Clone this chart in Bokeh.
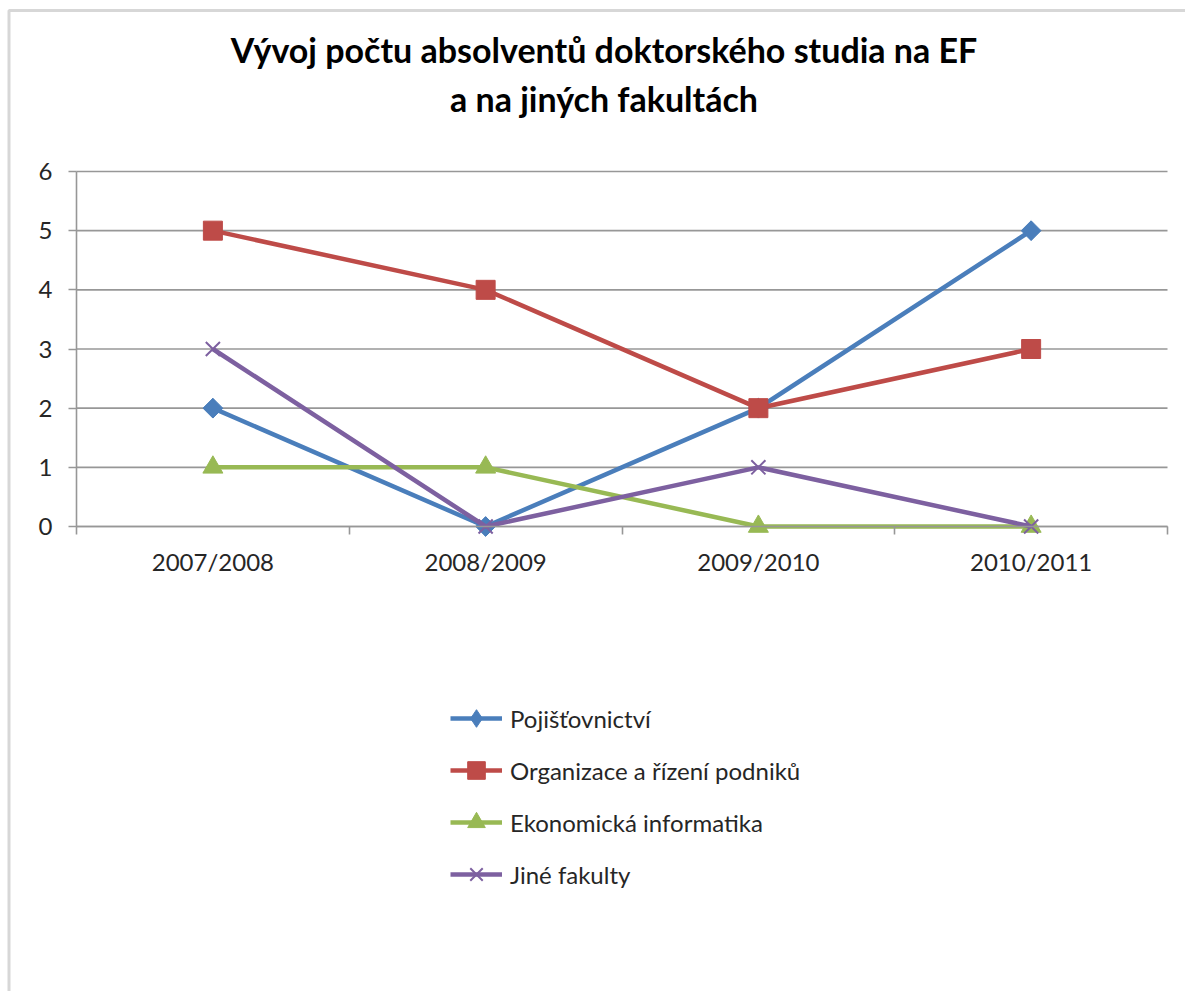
import numpy as np
from bokeh.plotting import figure
from bokeh.models import (Range1d, FixedTicker, Legend, LegendItem, Label, BoxAnnotation)
from bokeh.embed import file_html
from bokeh.resources import INLINE

categories = ["2007/2008", "2008/2009", "2009/2010", "2010/2011"]
series_names = ["Pojišťovnictví", "Organizace a řízení podniků", "Ekonomická informatika", "Jiné fakulty"]
pojistovnictvi = [2, 0, 2, 5]
organizace = [5, 4, 2, 3]
ekonomicka = [1, 1, 0, 0]
jine = [3, 0, 1, 0]
y_ticks = [0, 1, 2, 3, 4, 5, 6]
title_lines = ["Vývoj počtu absolventů doktorského studia na EF", "a na jiných fakultách"]

FONT = "Lato"
W, H = 1185, 991
# plot-area placement (pixels)
PL, PR, PT, PB = 76, 1167, 171, 526
n = len(categories)
xs = list(range(n))
x0, x1 = -0.5, n - 0.5
y0, y1 = y_ticks[0], y_ticks[-1]
sx = (PR - PL) / (x1 - x0)
sy = (PB - PT) / (y1 - y0)
x_range = Range1d(x0 - PL / sx, x1 + (W - PR) / sx)
y_range = Range1d(y0 - (H - PB) / sy, y1 + PT / sy)

p = figure(width=W, height=H, x_range=x_range, y_range=y_range,
           output_backend="svg", toolbar_location=None,
           min_border_left=0, min_border_right=0, min_border_top=0, min_border_bottom=0)
p.outline_line_color = None
p.background_fill_color = "white"
p.border_fill_color = "white"

GRAY = "#979797"
TXT = "#262626"
# horizontal gridlines limited to the plot area
p.xgrid.grid_line_color = None
p.ygrid.grid_line_color = None
p.segment(x0=[x0] * len(y_ticks), x1=[x1] * len(y_ticks), y0=y_ticks, y1=y_ticks,
          line_color=GRAY, line_width=1.6)

# axes (fixed inside the frame)
xa = p.xaxis[0]
xa.fixed_location = 0
xa.bounds = (x0, x1)
xa.ticker = FixedTicker(ticks=xs, minor_ticks=[x - 0.5 for x in xs] + [xs[-1] + 0.5])
xa.major_label_overrides = {i: c for i, c in enumerate(categories)}
xa.major_tick_line_color = None
xa.major_tick_out = 0
xa.major_tick_in = 0
xa.minor_tick_out = 8
xa.minor_tick_in = 0
xa.minor_tick_line_color = GRAY
xa.minor_tick_line_width = 1.6
xa.axis_line_color = GRAY
xa.axis_line_width = 1.6
xa.major_label_standoff = 12
xa.major_label_text_font = FONT
xa.major_label_text_font_size = "24px"
xa.major_label_text_color = TXT

ya = p.yaxis[0]
ya.fixed_location = x0
ya.bounds = (y0, y1)
ya.ticker = FixedTicker(ticks=y_ticks, minor_ticks=[])
ya.major_tick_out = 8
ya.major_tick_in = 0
ya.major_tick_line_color = GRAY
ya.major_tick_line_width = 1.6
ya.axis_line_color = GRAY
ya.axis_line_width = 1.6
ya.major_label_standoff = 16
ya.major_label_text_font = FONT
ya.major_label_text_font_size = "24px"
ya.major_label_text_color = TXT

colors = ["#4A7EBB", "#BE4B48", "#98B954", "#7D60A0"]
data = [pojistovnictvi, organizace, ekonomicka, jine]
items = []
for name, ys, col, k in zip(series_names, data, colors, range(4)):
    ln = p.line(xs, ys, line_color=col, line_width=4.5)
    if k == 0:
        # legend-friendly diamond hidden under the rotated square
        mk = p.scatter(xs, ys, marker="diamond", size=19, fill_color=col, line_color=col)
        p.scatter(xs, ys, marker="square", angle=np.pi / 4, size=14, fill_color=col, line_color=col)
    elif k == 1:
        mk = p.scatter(xs, ys, marker="square", size=19, fill_color=col, line_color=col)
    elif k == 2:
        mk = p.scatter(xs, ys, marker="triangle", size=20, fill_color=col, line_color=col)
    else:
        mk = p.scatter(xs, ys, marker="x", size=20, line_color=col, line_width=2)
    items.append(LegendItem(label=name, renderers=[ln, mk]))

legend = Legend(items=items, location=(450, 95), orientation="vertical",
                glyph_width=52, glyph_height=44, label_height=44, spacing=8,
                padding=0, margin=0, label_standoff=8,
                border_line_color=None, background_fill_alpha=0,
                label_text_font=FONT, label_text_font_size="24px",
                label_text_color=TXT)
p.add_layout(legend)

# title (two centered lines)
title_offsets = [477, 428]
for t, off in zip(title_lines, title_offsets):
    p.add_layout(Label(x=(x0 + x1) / 2, y=0, x_offset=-18, y_offset=off, text=t,
                       text_align="center", text_baseline="alphabetic",
                       text_font=FONT, text_font_style="bold", text_font_size="34px",
                       text_color="black"))

# chart border (left and top edges visible)
p.add_layout(BoxAnnotation(left=x_range.start + 8.5 / sx, right=x_range.end + 50 / sx,
                           top=y_range.end - 10 / sy, bottom=y_range.start - 50 / sy,
                           fill_alpha=0, line_color="#7c7c7c", line_width=3))

open("out.html", "w").write(file_html(p, INLINE))
